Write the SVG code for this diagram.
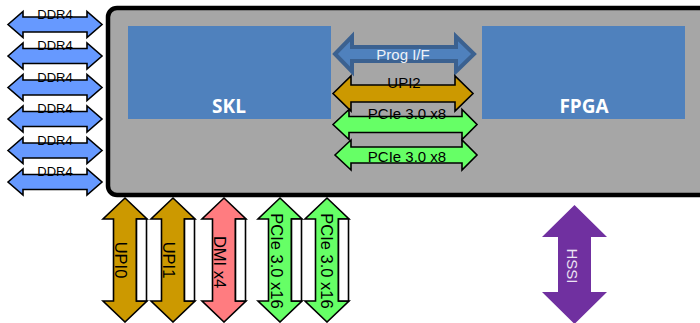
<svg xmlns="http://www.w3.org/2000/svg" xmlns:xlink="http://www.w3.org/1999/xlink" width="700" height="323" viewBox="0 0 700 323">
<style>
.lbl{font-family:"Liberation Sans",Arial,sans-serif;fill:#000;text-anchor:middle}
.ol{stroke:#000;stroke-width:1.6;stroke-linejoin:miter}
.ddr{fill:#6699ff}
.gold{fill:#cc9900}
.green{fill:#66ff66}
.pink{fill:#ff7c80}
.box{fill:#fff;stroke:#000;stroke-width:1.6}
.vl{font-size:16.5px;dominant-baseline:central}
</style>
<defs>
<path id="ddrA" d="M-47,0 L-32,-13 L-32,-7.5 L32,-7.5 L32,-13 L47,0 L32,13 L32,7.5 L-32,7.5 L-32,13 Z"/>
<path id="vA" d="M0,-62 L22,-41 L11.5,-41 L11.5,41 L22,41 L0,62 L-22,41 L-11.5,41 L-11.5,-41 L-22,-41 Z"/>
<rect id="vB" x="11.5" y="-41" width="10" height="82"/>
</defs>
<rect width="700" height="323" fill="#fff"/>
<g id="package">
<rect x="108" y="8" width="620" height="187" rx="9" fill="#a6a6a6" stroke="#000" stroke-width="4.5"/>
</g>
<g id="skl">
<rect x="128" y="26" width="203" height="93" fill="#4f81bd"/>
<text x="229" y="113" font-family="Open Sans,Liberation Sans,sans-serif" font-weight="bold" font-size="19" fill="#fff" text-anchor="middle">SKL</text>
</g>
<g id="fpga">
<rect x="482" y="26" width="203" height="93" fill="#4f81bd"/>
<text x="584" y="113" font-family="Open Sans,Liberation Sans,sans-serif" font-weight="bold" font-size="19" fill="#fff" text-anchor="middle">FPGA</text>
</g>
<g id="connectors">
<g id="ddr1"><use xlink:href="#ddrA" href="#ddrA" x="55" y="24.5" class="ddr ol"/><text class="lbl" x="55" y="18.5" font-size="13">DDR4</text></g>
<g id="ddr2"><use xlink:href="#ddrA" href="#ddrA" x="55" y="56" class="ddr ol"/><text class="lbl" x="55" y="50" font-size="13">DDR4</text></g>
<g id="ddr3"><use xlink:href="#ddrA" href="#ddrA" x="55" y="87.5" class="ddr ol"/><text class="lbl" x="55" y="81.5" font-size="13">DDR4</text></g>
<g id="ddr4"><use xlink:href="#ddrA" href="#ddrA" x="55" y="119" class="ddr ol"/><text class="lbl" x="55" y="113" font-size="13">DDR4</text></g>
<g id="ddr5"><use xlink:href="#ddrA" href="#ddrA" x="55" y="150.5" class="ddr ol"/><text class="lbl" x="55" y="144.5" font-size="13">DDR4</text></g>
<g id="ddr6"><use xlink:href="#ddrA" href="#ddrA" x="55" y="182" class="ddr ol"/><text class="lbl" x="55" y="176" font-size="13">DDR4</text></g>

<g id="progif">
<path d="M335,54 L352,36.5 L352,47 L456,47 L456,36.5 L474,54 L456,71.5 L456,61 L352,61 L352,71.5 Z" fill="#4f81bd" stroke="#3b6190" stroke-width="4" stroke-linejoin="miter"/>
<text class="lbl" x="403" y="60" font-size="15" style="fill:#eef2f8">Prog I/F</text>
</g>
<g id="upi2">
<path d="M333,93.5 L351,76 L351,85 L455,85 L455,76 L473,93.5 L455,111 L455,102 L351,102 L351,111 Z" class="gold ol"/>
<text class="lbl" x="404" y="88" font-size="15">UPI2</text>
</g>
<g id="pcie8a">
<path d="M333,124.5 L349,109.5 L349,116.5 L462,116.5 L462,109.5 L477,124.5 L462,139.5 L462,132.5 L349,132.5 L349,139.5 Z" class="green ol"/>
<text class="lbl" x="407" y="119" font-size="15">PCIe 3.0 x8</text>
</g>
<g id="pcie8b">
<path d="M335,155 L351,140 L351,147 L462,147 L462,140 L477,155 L462,170 L462,163 L351,163 L351,170 Z" class="green ol"/>
<text class="lbl" x="407" y="162" font-size="15">PCIe 3.0 x8</text>
</g>

<g id="upi0"><use xlink:href="#vA" href="#vA" x="125" y="260" class="gold ol"/><use xlink:href="#vB" href="#vB" x="125" y="260" class="box"/><text class="lbl vl" transform="translate(121,260) rotate(90)">UPI0</text></g>
<g id="upi1"><use xlink:href="#vA" href="#vA" x="173" y="260" class="gold ol"/><use xlink:href="#vB" href="#vB" x="173" y="260" class="box"/><text class="lbl vl" transform="translate(169,260) rotate(90)">UPI1</text></g>
<g id="dmi"><use xlink:href="#vA" href="#vA" x="224" y="260" class="pink ol"/><use xlink:href="#vB" href="#vB" x="224" y="260" class="box"/><text class="lbl vl" transform="translate(220,262) rotate(90)">DMI x4</text></g>
<g id="pcie16a"><use xlink:href="#vA" href="#vA" x="280" y="260" class="green ol"/><use xlink:href="#vB" href="#vB" x="280" y="260" class="box"/><text class="lbl vl" transform="translate(276.5,261) rotate(90)">PCIe 3.0 x16</text></g>
<g id="pcie16b"><use xlink:href="#vA" href="#vA" x="327" y="260" class="green ol"/><use xlink:href="#vB" href="#vB" x="327" y="260" class="box"/><text class="lbl vl" transform="translate(326.5,261) rotate(90)">PCIe 3.0 x16</text></g>

<g id="hssi">
<path d="M574.5,205 L607,237 L591,237 L591,292 L607,292 L574.5,324 L542,292 L558,292 L558,237 L542,237 Z" fill="#7030a0"/>
<text class="lbl" transform="translate(572,266) rotate(90)" font-size="15" dominant-baseline="central" style="fill:#ece4f4">HSSI</text>
</g>
</g>
</svg>
